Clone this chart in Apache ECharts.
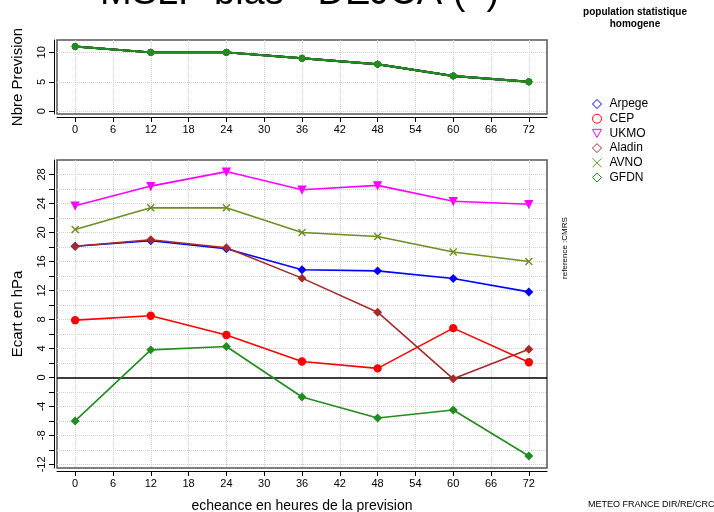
<!DOCTYPE html>
<html>
<head>
<meta charset="utf-8">
<script src="https://cdn.jsdelivr.net/npm/echarts@6/dist/echarts.min.js"></script>
<style>
  html, body { margin: 0; padding: 0; background: #fff; }
  #myChart { width: 714px; height: 512px; }
</style>
</head>
<body>
<div id="myChart"></div>
<script>
// echeances (heures)
var hours = [0, 12, 24, 36, 48, 60, 72];
// nombre de previsions (graphe du haut)
var nbre = [11, 10, 10, 9, 8, 6, 5];
// ecarts en hPa
var arpege = [18.1, 18.85, 17.75, 14.85, 14.7, 13.65, 11.8];
var cep    = [7.9, 8.5, 5.85, 2.2, 1.25, 6.8, 2.1];
var ukmo   = [23.7, 26.4, 28.4, 25.9, 26.5, 24.3, 23.9];
var aladin = [18.1, 19.0, 17.9, 13.7, 9.0, -0.2, 3.9];
var avno   = [20.4, 23.4, 23.4, 20.0, 19.45, 17.3, 16.0];
var gfdn   = [-6.0, 3.8, 4.27, -2.7, -5.6, -4.5, -10.85];

var modeles = ['Arpege', 'CEP', 'UKMO', 'Aladin', 'AVNO', 'GFDN'];
var xTicks = [0, 6, 12, 18, 24, 30, 36, 42, 48, 54, 60, 66, 72];
var yTicksHaut = [0, 5, 10];
var yTicksBas = [-12, -10, -8, -6, -4, -2, 0, 2, 4, 6, 8, 10, 12, 14, 16, 18, 20, 22, 24, 26, 28];
var yLabelsBas = [-12, -8, -4, 0, 4, 8, 12, 16, 20, 24, 28];

var couleurs = ['#0000ff', '#ff0000', '#ff00ff', '#a52a2a', '#6b8e23', '#228b22'];
var symboles = ['diamond', 'circle', 'path://M0,0L10,0L5,9Z', 'diamond',
                'path://M0,0L10,10M0,10L10,0', 'diamond'];
var valeurs = [arpege, cep, ukmo, aladin, avno, gfdn];

var police = 'Liberation Sans';
var policeEtroite = 'Liberation Sans Narrow, Liberation Sans';

function paires(vals) {
  return hours.map(function (h, i) { return [h, vals[i]]; });
}

function axeX(idx, nom) {
  return {
    type: 'value', gridIndex: idx, min: -2.88, max: 74.88,
    minInterval: 6, maxInterval: 6, offset: 3,
    axisLine: { show: true, onZero: false, lineStyle: { color: '#000', width: 1 } },
    axisTick: { show: true, length: 5, customValues: xTicks, lineStyle: { color: '#000' } },
    axisLabel: { customValues: xTicks, margin: 7, fontSize: 11, color: '#000', fontFamily: policeEtroite },
    splitLine: { show: true, lineStyle: { color: '#cfcfcf', type: 'dotted', width: 1 } },
    name: nom, nameLocation: 'middle', nameGap: 28,
    nameTextStyle: { fontSize: 14, color: '#000', fontFamily: police }
  };
}

function axeY(idx, min, max, pas, ticks, labels, nom) {
  return {
    type: 'value', gridIndex: idx, min: min, max: max,
    minInterval: pas, maxInterval: pas, offset: 3,
    axisLine: { show: true, onZero: false, lineStyle: { color: '#000', width: 1 } },
    axisTick: { show: true, length: 5, customValues: ticks, lineStyle: { color: '#000' } },
    axisLabel: { customValues: labels, margin: 7, rotate: 90, fontSize: 11, color: '#000', fontFamily: police },
    splitLine: { show: true, lineStyle: { color: '#cfcfcf', type: 'dotted', width: 1 } },
    name: nom, nameLocation: 'middle', nameGap: 29, nameRotate: 90,
    nameTextStyle: { fontSize: 15, color: '#000', fontFamily: police }
  };
}

var series = [];
// graphe du haut : meme nombre pour tous les modeles
modeles.forEach(function (m, i) {
  series.push({
    name: m, type: 'line', xAxisIndex: 0, yAxisIndex: 0,
    data: paires(nbre), symbol: 'circle', symbolSize: 6,
    lineStyle: { color: i === 5 ? couleurs[i] : '#2f4f2f', width: 2 },
    itemStyle: { color: couleurs[5], borderColor: couleurs[5] },
    silent: true, z: 2
  });
});
// graphe du bas : ecarts
modeles.forEach(function (m, i) {
  var s = {
    name: m, type: 'line', xAxisIndex: 1, yAxisIndex: 1,
    data: paires(valeurs[i]), symbol: symboles[i], symbolSize: 7,
    lineStyle: { color: couleurs[i], width: 1.6 },
    itemStyle: { color: couleurs[i], opacity: 1, borderColor: couleurs[i], borderWidth: 1.4 },
    silent: true, z: 3 + i
  };
  if (i === 0) {
    s.markLine = {
      silent: true, symbol: 'none', label: { show: false },
      lineStyle: { color: '#000', type: 'solid', width: 1.5 },
      data: [{ yAxis: 0 }]
    };
  }
  series.push(s);
});

var option = {
  animation: false,
  backgroundColor: '#fff',
  grid: [
    { left: 57, right: 167, top: 40, height: 74, show: true, borderColor: '#555', borderWidth: 1.5,
      containLabel: false, outerBoundsMode: 'none' },
    { left: 57, right: 167, top: 160, height: 308, show: true, borderColor: '#555', borderWidth: 1.5,
      containLabel: false, outerBoundsMode: 'none' }
  ],
  xAxis: [
    axeX(0, ''),
    axeX(1, 'echeance en heures de la prevision')
  ],
  yAxis: [
    axeY(0, -0.46, 12.1, 5, yTicksHaut, yTicksHaut, 'Nbre Prevision'),
    axeY(1, -12.5, 30, 2, yTicksBas, yLabelsBas, 'Ecart en hPa')
  ],
  legend: {
    orient: 'vertical', left: 587, top: 93,
    itemWidth: 9, itemHeight: 9, itemGap: 2.7,
    selectedMode: false,
    textStyle: { fontSize: 12, color: '#000', fontFamily: police, padding: [0, 0, 0, 3] },
    data: modeles.map(function (m, i) {
      return { name: m, icon: symboles[i],
        itemStyle: { color: 'rgba(0,0,0,0)', borderColor: couleurs[i], borderWidth: 1 } };
    })
  },
  graphic: [
    { type: 'text', x: 100, y: -25,
      style: { text: 'MSLP bias - DEJCA (  )', fontSize: 38, fontFamily: police, fill: '#000' } },
    { type: 'text', x: 635, y: 6,
      style: { text: 'population statistique\nhomogene', fontSize: 10, fontWeight: 'bold',
               fontFamily: policeEtroite, fill: '#000', align: 'center', lineHeight: 12 } },
    { type: 'text', x: 565, y: 248, rotation: Math.PI / 2,
      style: { text: 'reference :CMRS', fontSize: 8, fontFamily: policeEtroite, fill: '#000',
               align: 'center', verticalAlign: 'middle' } },
    { type: 'text', x: 588, y: 500,
      style: { text: 'METEO FRANCE DIR/RE/CRC', fontSize: 9, fontFamily: policeEtroite, fill: '#000' } }
  ],
  series: series
};

var myChart = echarts.init(document.getElementById('myChart'));
myChart.setOption(option);
</script>
</body>
</html>
